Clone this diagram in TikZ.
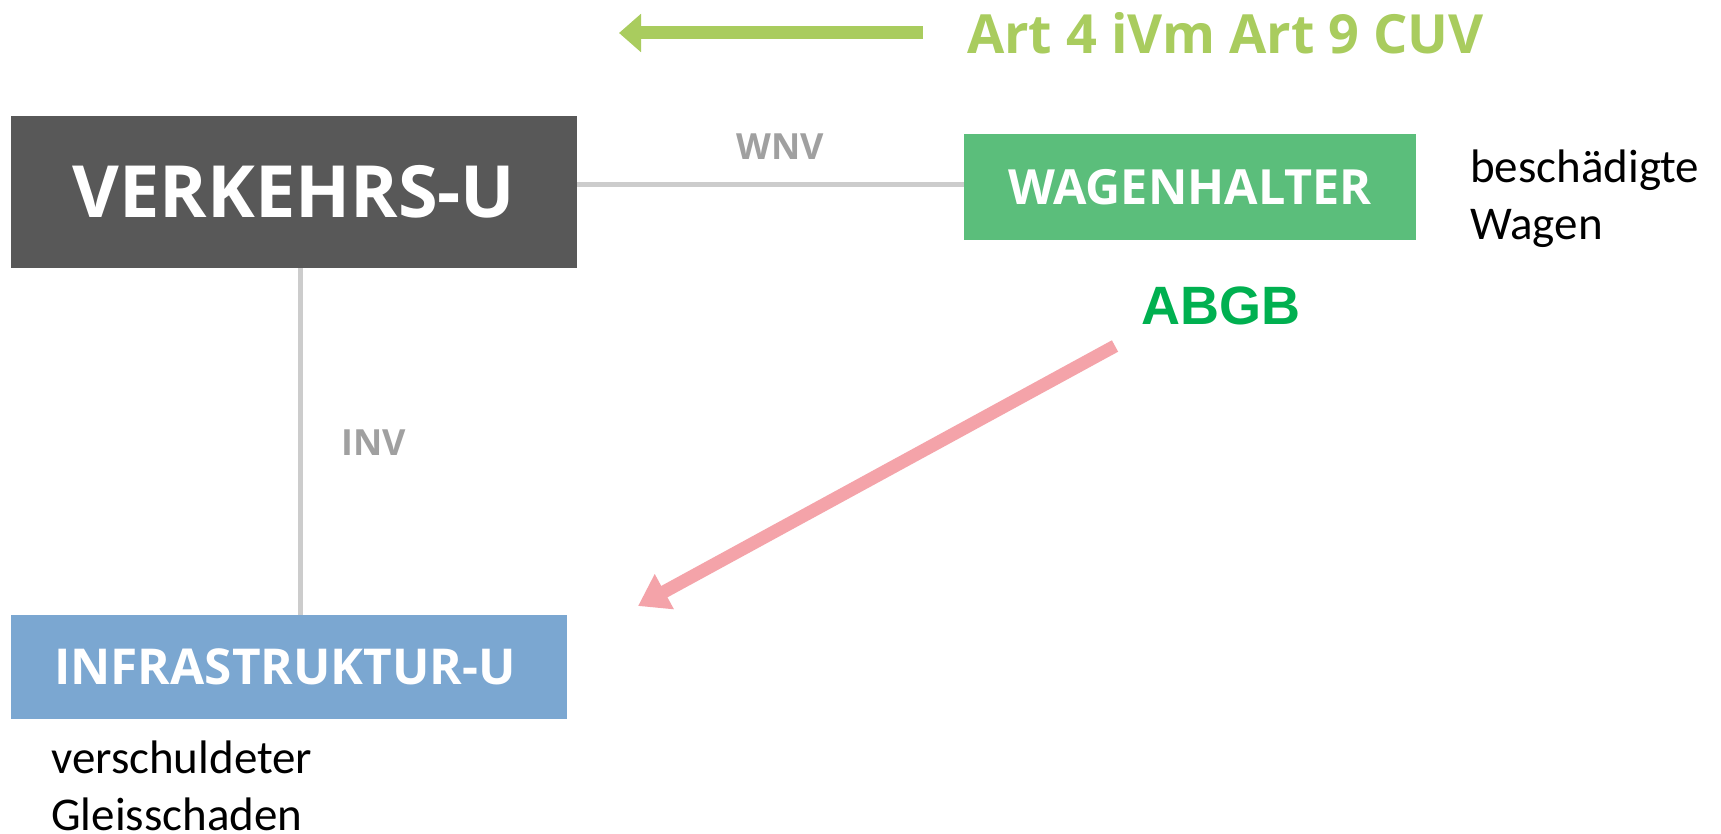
\documentclass[tikz,border=0pt]{standalone}
\usepackage{fontspec}
\usetikzlibrary{arrows.meta}
\newfontfamily\osfont{Open Sans}
\newfontfamily\calfont{Carlito}
\newfontfamily\arialfont{Liberation Sans}
\definecolor{vgrey}{HTML}{585858}
\definecolor{wgreen}{HTML}{5BBE7B}
\definecolor{iblue}{HTML}{7BA7D1}
\definecolor{lgrey}{HTML}{CCCCCC}
\definecolor{lblgrey}{HTML}{A0A0A0}
\definecolor{artgreen}{HTML}{A9CC5E}
\definecolor{abgbgreen}{HTML}{00B050}
\definecolor{pinkred}{HTML}{F4A3A9}
\tikzset{
  boxnode/.style={inner sep=0pt, text=white, font=\osfont\bfseries},
  conn/.style={draw=lgrey, line width=5pt},
  conlabel/.style={inner sep=0pt, text=lblgrey, font=\osfont\bfseries\fontsize{36}{40}\selectfont},
  note/.style={inner sep=0pt, align=left, font=\calfont\fontsize{47}{57}\selectfont},
}
\begin{document}
\begin{tikzpicture}[x=1pt,y=-1pt]
\useasboundingbox[fill=white] (0,0) rectangle (1721,834);
% boxes
\node[boxnode, fill=vgrey, minimum width=566pt, minimum height=152pt, font=\osfont\bfseries\fontsize{72}{78}\selectfont] (vu) at (294,192) {VERKEHRS-U};
\node[boxnode, fill=wgreen, minimum width=452pt, minimum height=106pt, font=\osfont\bfseries\fontsize{48.5}{52}\selectfont] (wh) at (1190,187) {WAGENHALTER};
\node[boxnode, fill=iblue, minimum width=556pt, minimum height=104pt] (iu) at (289,667) {};
\node[boxnode, font=\osfont\bfseries\fontsize{49.5}{54}\selectfont] (iut) at (285,667) {INFRASTRUKTUR-U};
% connectors
\draw[conn] ([yshift=2.5pt]wh.west) -- ([yshift=2.5pt]wh.west -| vu.east);
\draw[conn] ([xshift=6pt]vu.south) -- ([xshift=6pt]vu.south |- iu.north);
\node[conlabel] (wnv) at (780,146.5) {WNV};
\node[conlabel] (inv) at (374,443) {INV};
% notes
\node[note, anchor=base west] (bw) at (1470,240) {besch\"adigte\\Wagen};
\node[note, anchor=base west] (vg) at (51,830) {verschuldeter\\Gleisschaden};
\node[inner sep=0pt, text=abgbgreen, font=\arialfont\bfseries\fontsize{54}{60}\selectfont] (abgb) at (1221,305.5) {ABGB};
% top arrow and text
\node[inner sep=0pt, anchor=west, text=artgreen, font=\osfont\bfseries\fontsize{54}{60}\selectfont] (art) at (967,33) {Art 4 iVm Art 9 CUV};
\coordinate (ga1) at (923,33);
\coordinate (ga2) at (619,33);
\draw[draw=artgreen, line width=13pt, -{Triangle[length=22pt,width=37pt]}] (ga1) -- (ga2);
% pink arrow
\coordinate (pa1) at (1115,346);
\coordinate (pa2) at (638,606);
\draw[draw=pinkred, line width=13pt, -{Triangle[length=30pt,width=38pt]}] (pa1) -- (pa2);
\end{tikzpicture}
\end{document}
